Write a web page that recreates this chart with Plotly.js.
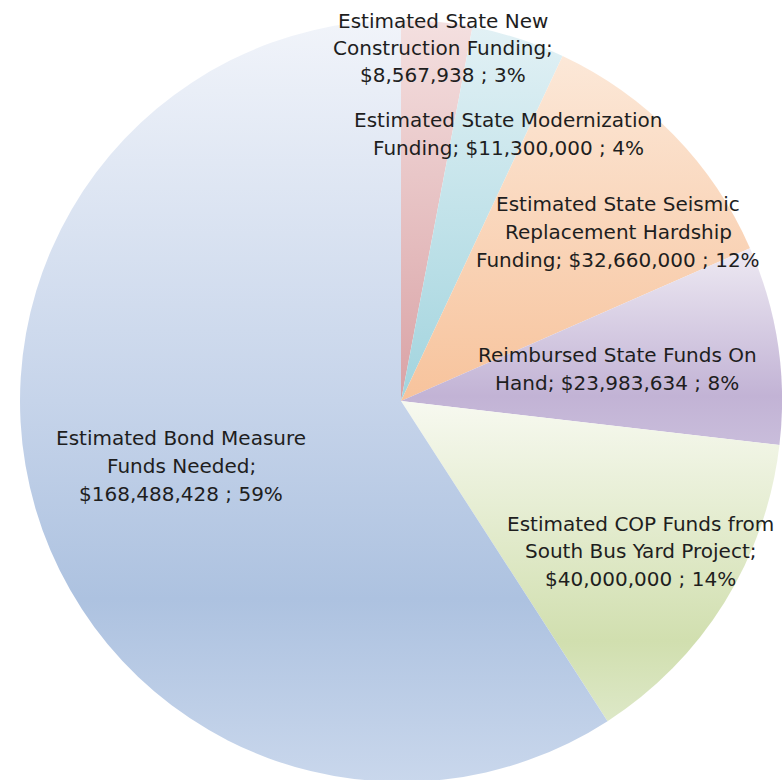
<!DOCTYPE html>
<html><head><meta charset="utf-8">
<script src="https://cdn.plot.ly/plotly-3.0.1.min.js"></script>
<style>html,body{margin:0;padding:0;overflow:hidden;background:#fff}#chart{width:782px;height:784px}</style>
</head><body><div id="chart"></div>
<script>
// ---- data ----
const categories = [
  "Estimated State New|Construction Funding",
  "Estimated State Modernization|Funding",
  "Estimated State Seismic|Replacement Hardship|Funding",
  "Reimbursed State Funds On|Hand",
  "Estimated COP Funds from|South Bus Yard Project",
  "Estimated Bond Measure|Funds Needed"
];
const values = [8567938, 11300000, 32660000, 23983634, 40000000, 168488428];
const pctLabels = ["3%", "4%", "12%", "8%", "14%", "59%"];
const valueOnNewLine = [true, false, false, false, true, true];

// ---- styling (per slice: vertical gradient stops top->bottom) ----
const gradients = [
  [[0, "#f4e0e0"], [1, "#d9a2a5"]],
  [[0, "#e2f1f5"], [1, "#a2d4de"]],
  [[0, "#fce8d8"], [1, "#f7c39c"]],
  [[0, "#eeeaf3"], [0.75, "#c2b3d5"], [1, "#c9bddb"]],
  [[0, "#f7f9f0"], [0.75, "#d1dfaf"], [1, "#dde8c7"]],
  [[0, "#f1f4fa"], [0.5, "#c6d4ea"], [0.76, "#adc2e0"], [1, "#c9d7ec"]]
];
const baseColors = ["#e6bcbe", "#c0e2e9", "#f9d3b6", "#d4cae2", "#e2ebcc", "#bccde7"];
// label block centres in pixels (x, y)
const labelPos = [[443, 48], [508, 134], [618, 232], [617, 369], [640, 551], [181, 466]];
const W = 782, H = 784, lineGap = 27.5;

const fmt = v => "$" + v.toLocaleString("en-US");
const annotations = [];
categories.forEach((c, i) => {
  const full = c + ";" + (valueOnNewLine[i] ? "|" : " ") + fmt(values[i]) + " ; " + pctLabels[i];
  const lines = full.split("|");
  const n = lines.length;
  lines.forEach((ln, k) => {
    const py = labelPos[i][1] + (k - (n - 1) / 2) * lineGap;
    annotations.push({
      text: ln, x: labelPos[i][0] / W, y: 1 - py / H, xref: "paper", yref: "paper",
      xanchor: "center", yanchor: "middle", showarrow: false,
      font: {family: "DejaVu Sans", size: 20, color: "#1e1e1e"}
    });
  });
});

const trace = {
  type: "pie",
  labels: categories.map(c => c.replace(/\|/g, " ")),
  values: values,
  sort: false,
  direction: "clockwise",
  rotation: 0,
  textinfo: "none",
  hoverinfo: "label+value+percent",
  marker: {colors: baseColors, line: {width: 0}},
  domain: {x: [(401 - 381) / W, (401 + 381) / W], y: [1 - 782 / H, 1 - 20 / H]},
  showlegend: false
};

const layout = {
  width: W, height: H,
  margin: {l: 0, r: 0, t: 0, b: 0},
  paper_bgcolor: "#ffffff",
  showlegend: false,
  annotations: annotations
};

Plotly.newPlot("chart", [trace], layout, {displayModeBar: false, staticPlot: true}).then(gd => {
  const svg = gd.querySelector("svg.main-svg");
  const NS = "http://www.w3.org/2000/svg";
  const defs = document.createElementNS(NS, "defs");
  gradients.forEach((stops, i) => {
    const lg = document.createElementNS(NS, "linearGradient");
    lg.setAttribute("id", "sliceGrad" + i);
    lg.setAttribute("x1", "0"); lg.setAttribute("y1", "0");
    lg.setAttribute("x2", "0"); lg.setAttribute("y2", "1");
    stops.forEach(s => {
      const st = document.createElementNS(NS, "stop");
      st.setAttribute("offset", s[0]);
      st.setAttribute("stop-color", s[1]);
      lg.appendChild(st);
    });
    defs.appendChild(lg);
  });
  svg.insertBefore(defs, svg.firstChild);
  gd.querySelectorAll("g.slice path.surface").forEach((p, i) => {
    p.style.fill = "url(#sliceGrad" + i + ")";
  });
});
</script>
</body></html>
